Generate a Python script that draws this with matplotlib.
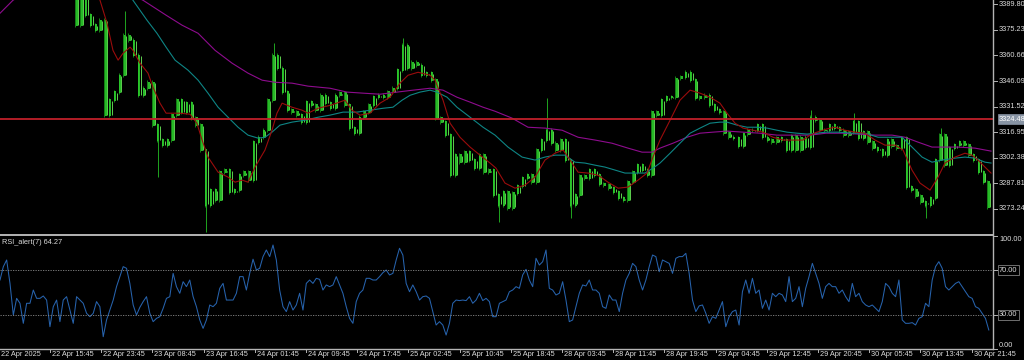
import numpy as np
import matplotlib
matplotlib.use('Agg')
import matplotlib.pyplot as plt
from matplotlib.transforms import blended_transform_factory

plt.rcParams['font.family'] = ['Liberation Sans', 'DejaVu Sans']

# XAUUSD M15, 22 Apr 08:00 .. 30 Apr 2025, closes read every 3 bars starting at bar 45
close = [
    3397.8, 3377.9, 3396.7, 3383.6, 3377.9, 3375.0, 3380.7, 3326.7, 3335.2, 3339.8,
    3349.4, 3372.2, 3369.3, 3360.8, 3338.0, 3342.0, 3345.4, 3321.0, 3312.5, 3309.6,
    3312.5, 3326.7, 3335.2, 3328.4, 3333.5, 3325.0, 3321.0, 3306.8, 3275.5, 3284.0,
    3278.3, 3294.2, 3295.4, 3282.9, 3284.0, 3292.5, 3294.2, 3289.7, 3311.3, 3314.1,
    3318.1, 3335.2, 3360.8, 3353.4, 3339.8, 3329.5, 3328.4, 3326.7, 3322.7, 3334.1,
    3332.4, 3329.5, 3338.0, 3333.5, 3330.6, 3338.0, 3339.2, 3332.4, 3319.3, 3316.4,
    3325.5, 3328.4, 3332.4, 3336.9, 3338.0, 3336.9, 3339.8, 3342.0, 3352.3, 3366.5,
    3353.4, 3356.8, 3355.1, 3349.4, 3350.6, 3346.6, 3325.0, 3322.7, 3315.3, 3292.5,
    3303.9, 3299.9, 3305.6, 3301.1, 3296.5, 3303.9, 3294.2, 3295.4, 3281.1, 3275.5,
    3282.9, 3273.8, 3282.3, 3286.3, 3290.8, 3292.5, 3288.5, 3306.8, 3312.5, 3318.1,
    3310.7, 3306.8, 3312.5, 3301.1, 3275.5, 3281.1, 3292.0, 3290.8, 3295.4, 3292.5,
    3287.4, 3286.8, 3285.1, 3282.9, 3279.4, 3278.3, 3288.5, 3294.2, 3298.2, 3295.4,
    3292.5, 3328.4, 3326.7, 3335.2, 3336.9, 3336.9, 3347.7, 3348.3, 3351.1, 3346.6,
    3336.3, 3336.9, 3338.0, 3332.4, 3329.5, 3328.4, 3316.4, 3314.1, 3313.6, 3309.0,
    3315.9, 3318.1, 3318.1, 3321.0, 3314.1, 3312.5, 3311.3, 3313.6, 3312.5, 3306.8,
    3314.7, 3306.8, 3314.1, 3308.5, 3325.5, 3323.8, 3318.1, 3318.1, 3321.0, 3319.3,
    3318.1, 3315.3, 3317.0, 3322.7, 3313.6, 3317.0, 3311.3, 3307.9, 3306.8, 3303.9,
    3312.5, 3309.0, 3307.9, 3313.6, 3285.7, 3284.0, 3280.6, 3277.2, 3275.5, 3279.4,
    3301.1, 3315.3, 3298.2, 3307.9, 3309.6, 3311.3, 3309.6, 3303.9, 3301.1, 3294.2,
    3288.5, 3274.3,
]
# samples with a long wick: sample index and the wick's end
wick_idx = [11, 18, 28, 42, 69, 89, 99, 104, 154, 163, 178, 181]
wick_end = [3385.8, 3291.4, 3260.1, 3367.6, 3370.5, 3265.8, 3336.3, 3268.1, 3329.5, 3327.8, 3268.1, 3319.3]

# moving averages (bar, price)
ma_red_bar = [62.5, 66.9, 70.6, 73.8, 76.9, 81.3, 83.1, 87.5, 92.5, 95.6, 100, 103.8, 112.5, 118.8,
              123.1, 126.3, 130, 136.3, 142.5, 146.9, 151.3, 155, 159.4, 165.6, 170, 173.1, 176.3,
              182.5, 188.8, 192.5, 198.8, 206.9, 215.6, 220, 225, 231.3, 237.5, 243.8, 250, 255,
              261.3, 268.8, 271.9, 276.9, 281.3, 287.5, 293.8, 300, 306.3, 310, 315.6, 321.9, 328.1,
              334.4, 340.6, 346.9, 351.9, 356.3, 361.3, 367.5, 373.8, 380, 386.3, 392.5, 398.8, 404.4,
              408.1, 412.5, 418.8, 425, 431.3, 437.5, 443.8, 450, 454.4, 459.4, 464.4, 470.6, 476.9,
              483.1, 489.4, 495.6, 501.9, 506.3, 510.6, 516.3, 521.9, 528.1, 534.4, 540.6, 546.9,
              553.1, 559.4, 564.4, 570, 575, 581.3, 586.3, 590.6, 596.9, 603.1, 607.5, 611.3, 615.6,
              619.4]
ma_red = [3392.1, 3379.0, 3363.6, 3358.0, 3361.9, 3365.4, 3363.6, 3356.3, 3350.6, 3342.6, 3333.5,
          3327.8, 3327.8, 3327.2, 3322.0, 3312.5, 3302.8, 3294.2, 3291.4, 3288.5, 3289.7, 3288.5,
          3297.1, 3306.8, 3318.1, 3327.8, 3333.5, 3331.2, 3329.5, 3327.8, 3330.6, 3332.4, 3335.2,
          3329.5, 3326.7, 3327.8, 3333.5, 3336.9, 3344.9, 3349.4, 3351.1, 3349.4, 3346.6, 3335.2,
          3322.1, 3314.1, 3308.5, 3303.9, 3299.4, 3296.5, 3288.0, 3285.1, 3286.8, 3291.4, 3301.1,
          3305.0, 3306.8, 3301.1, 3294.2, 3293.7, 3292.5, 3288.5, 3285.1, 3285.7, 3289.7, 3293.7,
          3302.8, 3312.5, 3323.8, 3335.2, 3340.9, 3339.2, 3336.9, 3333.5, 3327.8, 3322.1, 3319.3,
          3318.1, 3317.0, 3314.1, 3312.5, 3312.5, 3312.5, 3315.3, 3317.0, 3318.7, 3319.8, 3318.1,
          3317.0, 3316.4, 3312.5, 3309.6, 3309.6, 3306.8, 3295.4, 3288.0, 3284.0, 3291.4, 3299.4,
          3302.8, 3305.0, 3303.9, 3301.1, 3297.1, 3293.7]
ma_teal_bar = [83.1, 91.9, 98.1, 103.8, 109.4, 117.5, 123.8, 130, 136.3, 142.5, 148.8, 155, 161.3,
               165.6, 170, 175, 182.5, 190.6, 198.8, 206.3, 214.4, 223.1, 231.3, 239.4, 245.6, 251.3,
               256.3, 262.5, 268.8, 273.1, 279.4, 285.6, 293.8, 301.9, 309.4, 317.5, 326.3, 334.4,
               340.6, 346.9, 353.1, 359.4, 365.6, 371.9, 378.1, 384.4, 390.6, 396.9, 403.1, 408.1,
               412.5, 418.8, 425, 431.3, 437.5, 443.8, 450, 454.4, 460.6, 466.9, 473.1, 479.4, 485.6,
               491.9, 498.1, 504.4, 510.6, 516.3, 523.8, 532.5, 540.6, 548.8, 557.5, 563.8, 570,
               576.3, 582.5, 588.8, 596.9, 603.1, 609.4, 615.6, 619.4]
ma_teal = [3392.1, 3380.7, 3373.3, 3365.4, 3358.0, 3352.3, 3346.6, 3339.2, 3331.2, 3325.5, 3319.8,
           3315.3, 3313.6, 3314.1, 3317.0, 3321.0, 3322.7, 3323.8, 3325.5, 3326.7, 3328.4, 3328.4,
           3329.5, 3330.6, 3331.2, 3335.2, 3338.0, 3339.8, 3340.9, 3339.8, 3336.9, 3331.2, 3325.5,
           3319.8, 3315.3, 3308.5, 3302.8, 3301.1, 3302.8, 3303.9, 3303.9, 3299.9, 3299.4, 3298.2,
           3297.1, 3295.4, 3293.7, 3293.7, 3293.7, 3296.5, 3299.4, 3305.0, 3310.7, 3316.4, 3319.3,
           3322.1, 3322.7, 3322.7, 3321.0, 3319.8, 3319.8, 3319.3, 3318.1, 3317.0, 3316.4, 3315.9,
           3316.4, 3317.0, 3317.0, 3316.4, 3316.4, 3314.1, 3314.1, 3314.1, 3308.5, 3302.8, 3299.9,
           3301.1, 3302.2, 3302.8, 3302.2, 3299.9, 3299.4]
ma_purple_bar = [0, 8.1, 30, 60, 89.4, 103.8, 113.8, 123.8, 134.4, 145, 155, 163.8, 171.9, 182.5,
                 192.5, 206.3, 216.9, 226.9, 237.5, 248.1, 258.1, 268.8, 276.9, 285.6, 293.8, 301.9,
                 309.4, 320, 330, 340.6, 351.3, 361.3, 371.9, 382.5, 392.5, 401.3, 407.5, 412.5,
                 420.6, 429.4, 437.5, 445.6, 454.4, 464.4, 475, 485.6, 495.6, 506.3, 516.3, 526.3,
                 536.3, 546.9, 557.5, 565.6, 573.8, 582.5, 590.6, 598.8, 609.4, 619.4]
ma_purple = [3384.7, 3392.1, 3404.0, 3405.0, 3392.1, 3383.6, 3377.9, 3373.3, 3363.6, 3356.3, 3350.6,
             3346.6, 3345.4, 3344.9, 3343.2, 3342.0, 3339.8, 3339.2, 3338.6, 3339.8, 3340.9, 3342.0,
             3340.9, 3336.9, 3334.1, 3331.2, 3328.9, 3325.0, 3319.8, 3319.3, 3318.1, 3314.1, 3312.5,
             3310.7, 3307.9, 3305.6, 3305.6, 3307.9, 3310.7, 3314.1, 3316.4, 3317.0, 3317.6, 3317.0,
             3316.4, 3315.3, 3315.3, 3315.3, 3316.4, 3316.4, 3315.9, 3315.3, 3315.3, 3314.1, 3311.3,
             3308.5, 3308.5, 3308.5, 3307.9, 3306.2]

level = 3324.48
price_ticks = [3389.80, 3375.23, 3360.66, 3346.09, 3331.52, 3316.95, 3302.38, 3287.81, 3273.24]

# RSI(7), read about every 2 bars from bar 0 to bar 618
rsi = [
    61.1, 73.0, 78.9, 58.1, 30.0, 44.8, 40.4, 22.6, 40.4, 40.4,
    52.2, 44.8, 44.8, 46.9, 43.3, 19.6, 37.4, 43.3, 24.1, 43.3,
    46.3, 34.4, 22.6, 46.3, 43.3, 40.4, 31.5, 28.5, 31.5, 41.9,
    37.4, 10.7, 25.6, 34.4, 43.3, 55.2, 64.1, 73.0, 71.5, 58.1,
    38.9, 30.0, 36.8, 41.9, 46.3, 31.5, 24.1, 27.0, 28.5, 35.9,
    44.8, 46.3, 67.0, 55.2, 49.3, 59.6, 55.2, 61.1, 46.3, 37.4,
    25.6, 18.1, 25.6, 38.9, 37.4, 40.4, 53.7, 58.1, 43.3, 43.3,
    43.3, 49.3, 64.1, 64.1, 52.2, 67.0, 79.6, 70.0, 71.5, 81.9,
    87.8, 81.9, 92.2, 78.9, 52.2, 37.4, 33.0, 41.9, 34.4, 38.9,
    49.3, 34.4, 58.1, 61.1, 58.1, 62.6, 61.7, 52.2, 56.7, 55.2,
    56.7, 64.1, 56.7, 49.3, 37.4, 27.0, 22.6, 41.9, 49.3, 52.2,
    62.6, 62.6, 61.1, 61.1, 64.1, 67.6, 70.0, 65.6, 67.0, 78.9,
    89.3, 83.3, 58.1, 50.7, 56.7, 50.7, 43.3, 46.3, 46.9, 44.8,
    33.0, 21.1, 24.1, 21.1, 12.2, 22.6, 40.4, 43.3, 42.8, 43.3,
    42.8, 46.3, 40.4, 43.3, 49.3, 42.8, 44.8, 41.9, 28.5, 28.5,
    40.4, 41.9, 43.3, 50.7,
    52.2, 55.2, 53.7, 65.6, 70.6, 61.1, 55.2, 80.4, 74.4, 77.4,
    87.8, 53.7, 52.2, 47.8, 49.3, 59.6, 43.3, 24.1, 25.6, 37.4,
    49.3, 56.7, 55.8, 61.1, 52.2, 52.2, 49.3, 37.4, 35.9, 47.8,
    43.3, 43.3, 33.0, 49.3, 61.1, 67.0, 75.9, 73.0, 61.1, 52.2,
    61.1, 73.0, 83.3, 81.9, 68.5, 78.9, 77.4, 75.9, 67.0, 80.4,
    81.9, 81.9, 84.8, 67.0, 43.3, 33.0, 38.1, 38.9, 31.5, 22.6,
    28.5, 27.0, 34.4, 41.9, 19.6, 28.5, 33.0, 34.4, 21.1, 50.7,
    61.1, 49.3, 62.6, 49.3, 52.2, 35.9, 43.3, 34.4, 49.3, 46.3,
    49.3, 47.8, 41.9, 64.1, 41.9, 44.8, 55.2, 37.4, 53.7, 64.1,
    75.9, 67.0, 58.1, 44.8, 55.2, 58.1, 55.2, 55.2, 49.3, 52.2,
    46.3, 41.9, 58.1, 46.3, 49.3, 41.9, 38.9, 37.4, 38.9, 35.9,
    33.0, 41.9, 58.1, 55.2, 49.3, 46.3, 61.1, 25.6, 22.6, 22.6,
    23.2, 21.1, 27.0, 28.5, 40.4, 37.4, 61.1, 73.0, 77.4, 71.5,
    55.2, 52.2, 55.2, 58.1, 59.6, 55.2, 50.7, 46.3, 44.8, 37.4,
    35.9, 31.5, 27.0, 16.7,
]

time_labels = ['22 Apr 15:45', '22 Apr 23:45', '23 Apr 08:45', '23 Apr 16:45', '24 Apr 01:45',
               '24 Apr 09:45', '24 Apr 17:45', '25 Apr 02:45', '25 Apr 10:45', '25 Apr 18:45',
               '28 Apr 03:45', '28 Apr 11:45', '28 Apr 19:45', '29 Apr 04:45', '29 Apr 12:45',
               '29 Apr 20:45', '30 Apr 05:45', '30 Apr 13:45', '30 Apr 21:45']

W, H = 1024, 360
PX_PER_BAR = 1.6
AX_RIGHT = 993
GREY = '#b4b4b4'
TXT = '#dcdcdc'

fig = plt.figure(figsize=(W / 100, H / 100), dpi=100, facecolor='black')
ax = fig.add_axes([0, 1 - 234 / H, AX_RIGHT / W, 234 / H], facecolor='black')
ax2 = fig.add_axes([0, (H - 348.75) / H, AX_RIGHT / W, 112.5 / H], facecolor='black')

xmax = AX_RIGHT / PX_PER_BAR
for a in (ax, ax2):
    a.set_xlim(0, xmax)
    a.set_xticks([])
    a.set_yticks([])
    for s in a.spines.values():
        s.set_visible(False)

# ---- price panel
ax.set_ylim(3259.0, 3392.25)
close = np.array(close)
cb = 45 + 3 * np.arange(len(close))
opn = np.r_[close[0], close[:-1]]
lo = np.minimum(opn, close)
hi = np.maximum(opn, close)
ax.vlines(cb - 0.9, lo - 1.2, hi + 1.2, color='#1a9a1a', lw=0.6)
ax.vlines(cb, lo - 0.4, hi + 0.4, color='#2ccd2c', lw=1.3)
ax.vlines(cb + 0.9, lo + 0.3, hi - 0.3, color='#6cf25c', lw=0.6)
ax.vlines(cb[wick_idx], close[wick_idx], wick_end, color='#1fa51f', lw=0.7)

ax.plot(ma_purple_bar, ma_purple, color='#8e0c8e', lw=0.8)
ax.plot(ma_teal_bar, ma_teal, color='#0e8585', lw=0.8)
ax.plot(ma_red_bar, ma_red, color='#9a0c0c', lw=0.8)
ax.axhline(level, color='#c0202a', lw=1.3)

tr = blended_transform_factory(ax.transAxes, ax.transData)
for p in price_ticks:
    ax.plot([1.0, 1.004], [p, p], color=GREY, lw=0.7, transform=tr, clip_on=False)
    ax.text(1.006, p, f'{p:.2f}', transform=tr, color=TXT, fontsize=5.3,
            va='center', ha='left', clip_on=False)
ax.text(1.006, level, f'{level:.2f}', transform=tr, color='white', fontsize=5.3,
        va='center', ha='left', clip_on=False,
        bbox=dict(boxstyle='square,pad=0.15', fc='#8894a4', ec='#8894a4', lw=0.5))

# ---- RSI panel
ax2.set_ylim(0, 100)
rsi_x = np.linspace(0, 618, len(rsi))
ax2.plot(rsi_x, rsi, color='#2763ad', lw=0.75)
for lv in (70, 30):
    ax2.axhline(lv, color='#8a8a8a', lw=0.6, ls=(0, (1.5, 1.5)))
ax2.text(0.002, 0.975, 'RSI_alert(7) 64.27', transform=ax2.transAxes, color=TXT,
         fontsize=5.3, va='top', ha='left')

tr2 = blended_transform_factory(ax2.transAxes, ax2.transData)
for lv, yv in ((100, 97), (70, 70), (30, 30), (0, 3)):
    box = None
    if lv in (70, 30):
        box = dict(boxstyle='square,pad=0.15', fc='black', ec='#9a9a9a', lw=0.5)
    ax2.text(1.006, yv, f'{lv:.2f}', transform=tr2, color=TXT, fontsize=5.3,
             va='center', ha='left', clip_on=False, bbox=box)
    ax2.plot([1.0, 1.004], [lv, lv], color=GREY, lw=0.7, transform=tr2, clip_on=False)

# frame lines of the terminal window
fig.add_artist(plt.Line2D([0, AX_RIGHT / W], [1 - 235.2 / H] * 2, color=GREY, lw=1.4))
fig.add_artist(plt.Line2D([0, AX_RIGHT / W], [1 - 348.8 / H] * 2, color=GREY, lw=1.0))
fig.add_artist(plt.Line2D([AX_RIGHT / W] * 2, [1 - 348.8 / H, 1], color=GREY, lw=1.0))

# time axis
ticks = 31.25 + 32 * np.arange(len(time_labels))
ty = -5.5 / 112.5
btr = blended_transform_factory(ax2.transData, ax2.transAxes)
ax2.text(1 / PX_PER_BAR, ty, '22 Apr 2025', transform=btr,
         color=TXT, fontsize=5.3, va='center', ha='left', clip_on=False)
for t, lab in zip(ticks, time_labels):
    ax2.plot([t, t], [0, -0.025], color=GREY, lw=0.7, transform=btr, clip_on=False)
    ax2.text(t + 1.2, ty, lab, transform=btr, color=TXT, fontsize=5.3,
             va='center', ha='left', clip_on=False, zorder=5)

fig.savefig('out.png', dpi=100, facecolor='black')
